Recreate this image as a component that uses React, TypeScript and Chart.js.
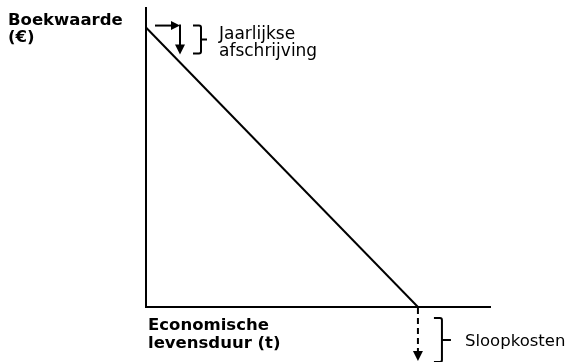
import React, { useEffect, useRef } from "react";
import { Chart, registerables } from "chart.js";

Chart.register(...registerables);

// Data: straight-line depreciation (book value declines to 0 at end of economic life)
const lifeYears = [0, 10];
const bookValue = [10, 0];
const xMax = 12.65;
const yMax = 10.7;

const yTitle = ["Boekwaarde", "(€)"];
const xTitle = ["Economische", "levensduur (t)"];
const depLabel = ["Jaarlijkse", "afschrijving"];
const demoLabel = "Sloopkosten";

const FONT = '"DejaVu Sans", Verdana, sans-serif';

function arrowHead(ctx: CanvasRenderingContext2D, x: number, y: number, dir: "right" | "down") {
  ctx.beginPath();
  if (dir === "right") {
    ctx.moveTo(x, y);
    ctx.lineTo(x - 9, y - 4.5);
    ctx.lineTo(x - 9, y + 4.5);
  } else {
    ctx.moveTo(x, y);
    ctx.lineTo(x - 5, y - 10);
    ctx.lineTo(x + 5, y - 10);
  }
  ctx.closePath();
  ctx.fill();
}

function brace(ctx: CanvasRenderingContext2D, x: number, top: number, bottom: number, w: number, tick: number) {
  const mid = (top + bottom) / 2;
  ctx.beginPath();
  ctx.moveTo(x, top);
  ctx.lineTo(x + w - 2, top);
  ctx.quadraticCurveTo(x + w, top, x + w, top + 2);
  ctx.lineTo(x + w, bottom - 2);
  ctx.quadraticCurveTo(x + w, bottom, x + w - 2, bottom);
  ctx.lineTo(x, bottom);
  ctx.moveTo(x + w, mid);
  ctx.lineTo(x + w + tick, mid);
  ctx.stroke();
}

const annotations = {
  id: "annotations",
  afterDraw(chart: any) {
    const ctx: CanvasRenderingContext2D = chart.ctx;
    const xs = chart.scales.x;
    const ys = chart.scales.y;
    const x0 = xs.getPixelForValue(lifeYears[0]);
    const y0 = ys.getPixelForValue(bookValue[0]);
    const x1 = xs.getPixelForValue(lifeYears[lifeYears.length - 1]);
    const y1 = ys.getPixelForValue(bookValue[bookValue.length - 1]);
    ctx.save();
    ctx.strokeStyle = "#000";
    ctx.fillStyle = "#000";
    ctx.lineWidth = 2;

    // yearly depreciation arrows
    const ay = y0 - 2;
    const ax = x0 + 34;
    ctx.beginPath();
    ctx.moveTo(x0 + 9, ay);
    ctx.lineTo(ax - 4, ay);
    ctx.stroke();
    arrowHead(ctx, ax, ay, "right");
    ctx.beginPath();
    ctx.moveTo(ax, ay - 1);
    ctx.lineTo(ax, ay + 20);
    ctx.stroke();
    arrowHead(ctx, ax, ay + 29, "down");

    brace(ctx, x0 + 47, y0 - 2, y0 + 26, 8, 6);

    ctx.font = `17px ${FONT}`;
    ctx.textBaseline = "alphabetic";
    ctx.fillText(depLabel[0], x0 + 73, y0 + 11);
    ctx.fillText(depLabel[1], x0 + 73, y0 + 28);

    // demolition costs (dashed arrow below the axis)
    ctx.setLineDash([6, 4]);
    ctx.beginPath();
    ctx.moveTo(x1, y1 + 1);
    ctx.lineTo(x1, y1 + 44);
    ctx.stroke();
    ctx.setLineDash([]);
    arrowHead(ctx, x1, y1 + 54, "down");

    brace(ctx, x1 + 16, y1 + 11, y1 + 55, 8, 9);
    ctx.font = `16.5px ${FONT}`;
    ctx.fillText(demoLabel, x1 + 47, y1 + 39);

    // axis titles
    ctx.font = `bold 16.5px ${FONT}`;
    ctx.fillText(yTitle[0], 8, 25);
    ctx.fillText(yTitle[1], 8, 42);
    ctx.fillText(xTitle[0], x0 + 2, y1 + 23);
    ctx.fillText(xTitle[1], x0 + 2, y1 + 41);
    ctx.restore();
  },
};

export default function App() {
  const ref = useRef<HTMLCanvasElement>(null);
  useEffect(() => {
    document.body.style.margin = "0";
    const chart = new Chart(ref.current!, {
      type: "scatter",
      data: {
        datasets: [
          {
            data: lifeYears.map((x, i) => ({ x, y: bookValue[i] })),
            showLine: true,
            borderColor: "#000",
            borderWidth: 2,
            pointRadius: 0,
          },
        ],
      },
      options: {
        responsive: false,
        animation: false,
        layout: { padding: { left: 146, right: 79, top: 8, bottom: 55 } },
        plugins: { legend: { display: false }, tooltip: { enabled: false } },
        scales: {
          x: {
            type: "linear",
            min: 0,
            max: xMax,
            grid: { display: false },
            ticks: { display: false },
            border: { display: true, color: "#000", width: 2 },
            afterFit: (s: any) => { s.height = 0; },
          },
          y: {
            type: "linear",
            min: 0,
            max: yMax,
            grid: { display: false },
            ticks: { display: false },
            border: { display: true, color: "#000", width: 2 },
            afterFit: (s: any) => { s.width = 0; },
          },
        },
      },
      plugins: [annotations],
    });
    return () => chart.destroy();
  }, []);
  return (
    <div style={{ width: 569, height: 362, background: "#fff" }}>
      <canvas ref={ref} width={569} height={362} />
    </div>
  );
}
